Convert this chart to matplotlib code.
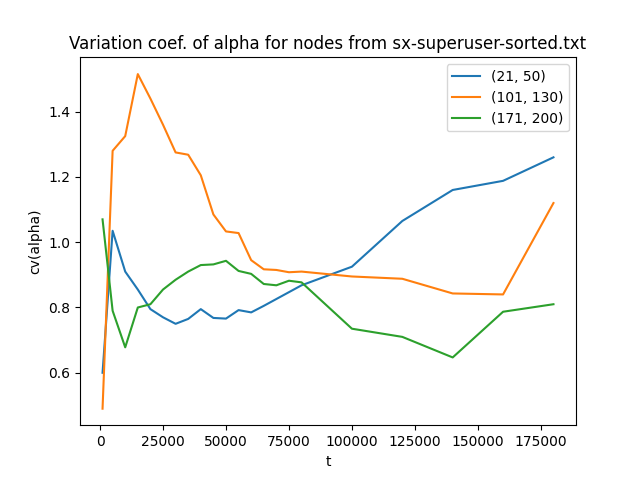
import matplotlib
matplotlib.use("Agg")
import matplotlib.pyplot as plt

t = [1000, 5000, 10000, 15000, 20000, 25000, 30000, 35000, 40000, 45000, 50000,
     55000, 60000, 65000, 70000, 75000, 80000, 100000, 120000, 140000, 160000, 180000]

cv_21_50 = [0.60, 1.035, 0.91, 0.855, 0.795, 0.77, 0.75, 0.765, 0.795, 0.768, 0.766,
            0.792, 0.785, 0.805, 0.826, 0.847, 0.868, 0.925, 1.065, 1.16, 1.188, 1.26]
cv_101_130 = [0.49, 1.28, 1.325, 1.515, 1.44, 1.36, 1.275, 1.268, 1.205, 1.085, 1.033,
              1.028, 0.945, 0.917, 0.915, 0.908, 0.91, 0.895, 0.888, 0.843, 0.84, 1.12]
cv_171_200 = [1.07, 0.79, 0.678, 0.80, 0.81, 0.855, 0.885, 0.91, 0.93, 0.932, 0.943,
              0.912, 0.903, 0.872, 0.868, 0.882, 0.877, 0.735, 0.71, 0.647, 0.787, 0.81]

fig = plt.figure(figsize=(6.4, 4.78), dpi=100)
plt.plot(t, cv_21_50, label="(21, 50)")
plt.plot(t, cv_101_130, label="(101, 130)")
plt.plot(t, cv_171_200, label="(171, 200)")
plt.title("Variation coef. of alpha for nodes from sx-superuser-sorted.txt")
plt.xlabel("t")
plt.ylabel("cv(alpha)")
plt.legend()
plt.savefig("out.png")
